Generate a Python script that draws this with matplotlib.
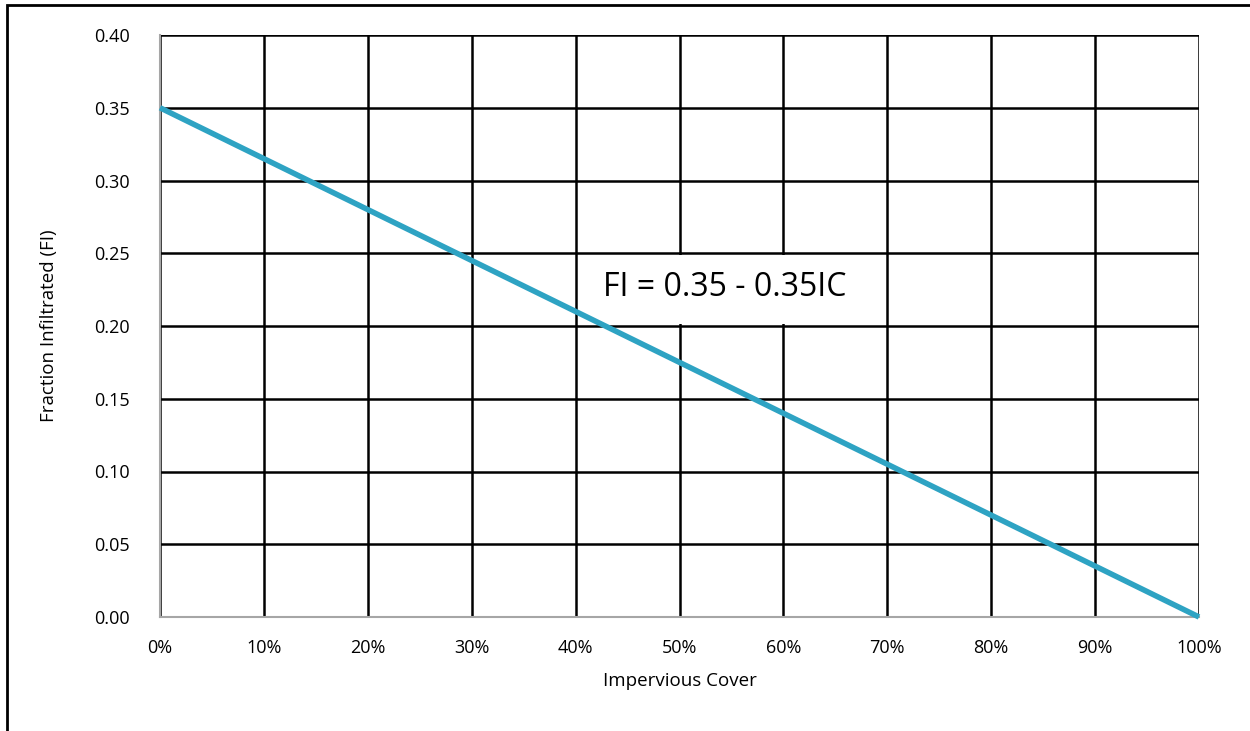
import matplotlib
matplotlib.use("Agg")
import matplotlib.pyplot as plt
from matplotlib.patches import Rectangle
from matplotlib.ticker import FuncFormatter

# data
impervious = [0.0, 1.0]
fraction_infiltrated = [0.35, 0.0]
x_ticks = [0.0, 0.1, 0.2, 0.3, 0.4, 0.5, 0.6, 0.7, 0.8, 0.9, 1.0]
y_ticks = [0.0, 0.05, 0.10, 0.15, 0.20, 0.25, 0.30, 0.35, 0.40]
equation = "FI = 0.35 - 0.35IC"

plt.rcParams['font.family'] = ['Open Sans', 'DejaVu Sans']

fig = plt.figure(figsize=(12.5, 7.31), dpi=100)
ax = fig.add_axes([160 / 1250, 1 - 617 / 731, (1199 - 160) / 1250, (617 - 35) / 731])

ax.plot(impervious, fraction_infiltrated, color='#2ea3c3', lw=4, zorder=4,
        solid_capstyle='butt', clip_on=False)

ax.set_xlim(0, 1)
ax.set_ylim(0, 0.40)
ax.set_xticks(x_ticks)
ax.set_yticks(y_ticks)
ax.xaxis.set_major_formatter(FuncFormatter(lambda v, p: f"{v * 100:.0f}%"))
ax.yaxis.set_major_formatter(FuncFormatter(lambda v, p: f"{v:.2f}"))
ax.tick_params(length=0, labelsize=13)
ax.tick_params(axis='y', pad=22)
ax.tick_params(axis='x', pad=16)
ax.grid(True, color='black', lw=1.8)
ax.set_axisbelow(True)

for side in ['top', 'right']:
    ax.spines[side].set_visible(False)
for side in ['left', 'bottom']:
    ax.spines[side].set_color('#a6a6a6')
    ax.spines[side].set_linewidth(1.5)

ax.set_xlabel("Impervious Cover", fontsize=13.5, labelpad=11)
ax.set_ylabel("Fraction Infiltrated (FI)", fontsize=13.5, labelpad=26)

# white box behind the equation
ax.add_patch(Rectangle((0.403, 0.2013), 0.287, 0.0472, facecolor='white',
                       edgecolor='none', zorder=3))
ax.text(0.544, 0.2265, equation, fontsize=23, ha='center', va='center', zorder=5)

# outer frame
fig.patches.append(Rectangle((7 / 1250, -0.1), 1.2, 1 - 5 / 731 + 0.1,
                             transform=fig.transFigure, fill=False,
                             edgecolor='black', lw=2))

plt.savefig("out.png", dpi=100)
